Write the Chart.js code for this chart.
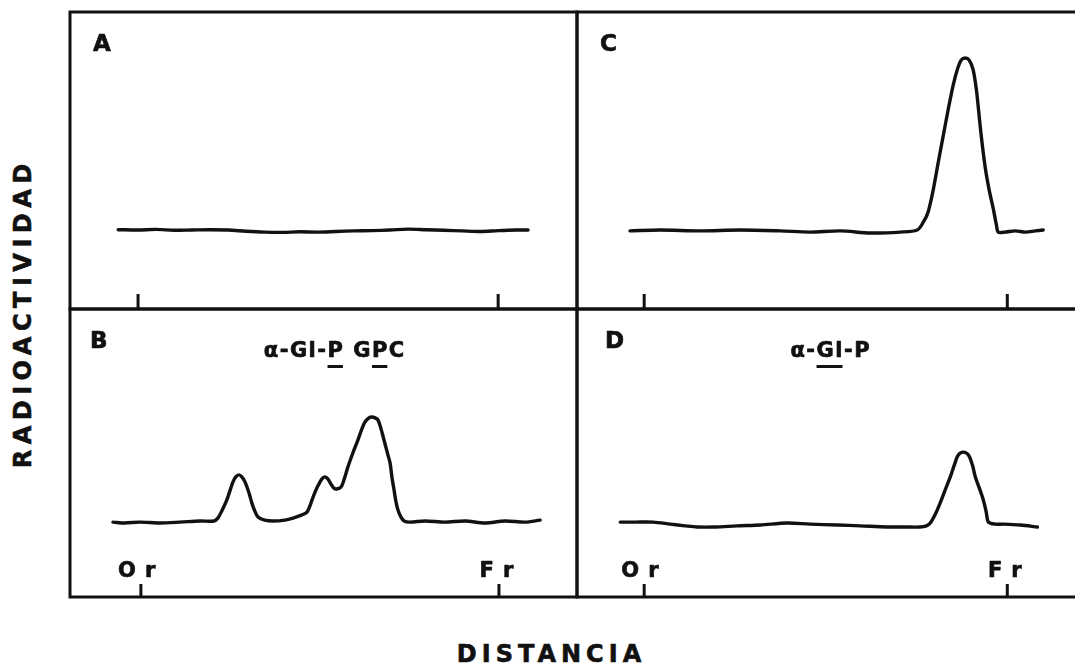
<!DOCTYPE html>
<html>
<head>
<meta charset="utf-8">
<title>Radioactividad vs distancia</title>
<script src="https://cdn.jsdelivr.net/npm/chart.js@4.4.1/dist/chart.umd.min.js"></script>
<style>
  html, body { margin: 0; padding: 0; background: #fff; }
  #fig { position: relative; width: 1075px; height: 663px; overflow: hidden; background: #fff;
         font-family: "DejaVu Sans", sans-serif; color: #111; }
  #fig canvas { position: absolute; }
  .axis-title { position: absolute; font-weight: bold; font-size: 24px; line-height: 24px;
                white-space: nowrap; -webkit-text-stroke: 0.6px #111; }
  #ylab { left: 23px; top: 316px; letter-spacing: 5.5px; padding-left: 5.5px;
          transform: translate(-50%, -50%) rotate(-90deg); }
  #xlab { left: 549px; top: 642px; letter-spacing: 5px; padding-left: 5px;
          transform: translateX(-50%); }
</style>
</head>
<body>
<div id="fig">
  <canvas id="cA"></canvas>
  <canvas id="cB"></canvas>
  <canvas id="cC"></canvas>
  <canvas id="cD"></canvas>
  <div class="axis-title" id="ylab">RADIOACTIVIDAD</div>
  <div class="axis-title" id="xlab">DISTANCIA</div>
</div>
<script>
// Distance along the strip: origin (Or) = 0, solvent front (Fr) = 10.
const markPositions = [0, 10];
const markLabels = ['Or', 'Fr'];

// Panel A: no activity, flat trace.
const distA = [-0.55, 0, 0.5, 1, 1.5, 2, 2.5, 3, 3.5, 4, 4.5, 5, 5.5, 6, 6.5, 7, 7.5, 8, 8.5, 9, 9.5, 10, 10.5, 10.83];
const actA  = [26.7, 26.6, 26.8, 26.5, 26.6, 26.7, 26.6, 26.2, 25.9, 25.8, 26.0, 25.9, 26.1, 26.3, 26.4, 26.6, 26.9, 26.7, 26.5, 26.3, 26.1, 26.4, 26.6, 26.6];

// Panel B: three peaks (α-Gl-P, shoulder, GPC).
const distB = [-0.78, -0.45, -0.03, 0.53, 1.09, 1.65, 2.04, 2.15, 2.26, 2.40, 2.57, 2.65, 2.74, 2.82, 2.91, 3.02, 3.10, 3.18, 3.27, 3.46,
               3.69, 4.02, 4.25, 4.50, 4.64, 4.72, 4.78, 4.89, 5.00, 5.08, 5.14, 5.22, 5.31, 5.39, 5.47, 5.59, 5.67, 5.78, 5.92, 6.06,
               6.17, 6.26, 6.37, 6.45, 6.54, 6.62, 6.70, 6.79, 6.90, 6.96, 7.01, 7.07, 7.12, 7.18, 7.26, 7.35, 7.51, 7.93, 8.49, 9.05,
               9.61, 10.17, 10.73, 11.15];
const actB  = [26.0, 25.7, 26.0, 25.7, 26.0, 26.4, 26.4, 27.4, 29.9, 33.7, 39.9, 41.7, 42.4, 41.7, 39.9, 36.1, 32.6, 29.9, 27.8, 26.7,
               26.4, 26.7, 27.4, 28.5, 29.5, 31.6, 33.7, 37.2, 39.9, 41.3, 41.7, 41.0, 39.2, 37.8, 37.5, 38.2, 40.6, 45.1, 50.0, 54.5,
               58.3, 60.8, 62.2, 62.5, 62.2, 61.5, 58.7, 54.5, 49.3, 46.5, 41.7, 37.2, 33.3, 30.2, 27.8, 26.4, 26.0, 26.4, 26.0, 26.4,
               25.7, 26.4, 26.0, 26.7];

// Panel C: single large peak near the front.
const distC = [-0.39, 0.44, 1.54, 2.64, 3.75, 4.57, 5.40, 6.23, 7.05, 7.52, 7.69, 7.82, 7.96, 8.10, 8.24, 8.37, 8.51, 8.62, 8.73, 8.84,
               8.95, 9.06, 9.15, 9.20, 9.28, 9.39, 9.50, 9.61, 9.70, 9.75, 9.94, 10.22, 10.50, 10.77, 10.99];
const actC  = [26.3, 26.6, 26.3, 26.6, 26.3, 25.9, 26.3, 25.6, 25.9, 26.6, 29.3, 32.7, 40.1, 49.5, 58.6, 67.0, 75.4, 80.5, 83.8, 84.5,
               83.8, 80.5, 73.7, 68.0, 58.6, 47.8, 40.1, 34.0, 28.3, 25.9, 25.9, 26.3, 25.9, 26.3, 26.6];

// Panel D: α-Gl-P peak.
const distD = [-0.66, -0.25, 0.25, 0.72, 1.13, 1.46, 1.96, 2.56, 3.20, 3.94, 4.57, 5.32, 5.95, 6.69, 7.19, 7.60, 7.77, 7.88, 8.02, 8.15,
               8.29, 8.43, 8.54, 8.65, 8.79, 8.93, 9.04, 9.12, 9.23, 9.34, 9.42, 9.48, 9.67, 9.89, 10.36, 10.83];
const actD  = [26.0, 26.0, 26.0, 25.3, 24.7, 24.3, 24.3, 24.7, 25.0, 25.7, 25.3, 25.0, 24.7, 24.3, 24.3, 24.3, 24.7, 25.7, 28.8, 32.6,
               37.2, 41.7, 45.8, 49.3, 50.3, 49.3, 45.8, 41.7, 37.8, 33.7, 29.5, 26.0, 25.3, 25.3, 25.0, 24.3];

// Panel captions; underline ranges are [start, end) character indices.
const panelLetters = ['A', 'B', 'C', 'D'];
const titleB = 'α-Gl-P GPC';
const underlineB = [[5, 6], [8, 9]];
const titleD = 'α-Gl-P';
const underlineD = [[2, 4]];

const INK = '#111';
const FONT = '"DejaVu Sans", sans-serif';
const PAD = 8;

// Heavy text: fill plus a thin outline.
function heavyText(ctx, s, x, y) {
  ctx.fillText(s, x, y);
  ctx.strokeText(s, x, y);
}

// Drawing of the frame, Or/Fr marks and captions of one panel.
const panelDecor = {
  id: 'panelDecor',
  afterDraw(chart, args, o) {
    const { ctx, chartArea: a } = chart;
    const xs = chart.scales.x;
    ctx.save();
    ctx.strokeStyle = INK;
    ctx.fillStyle = INK;
    ctx.lineWidth = 3;
    ctx.strokeRect(a.left, a.top, a.right - a.left, a.bottom - a.top);

    markPositions.forEach(m => {
      const px = xs.getPixelForValue(m);
      ctx.beginPath();
      ctx.moveTo(px, a.bottom);
      ctx.lineTo(px, a.bottom - o.markLen);
      ctx.stroke();
    });

    ctx.lineWidth = 0.7;
    ctx.lineJoin = 'round';
    ctx.textBaseline = 'alphabetic';

    if (o.markText) {
      ctx.font = 'bold 21px ' + FONT;
      markPositions.forEach((m, i) => {
        const px = xs.getPixelForValue(m);
        const lab = markLabels[i];
        ctx.textAlign = 'right';
        heavyText(ctx, lab[0], px - 5, a.bottom - 20);
        ctx.textAlign = 'left';
        heavyText(ctx, lab[1], px + 4, a.bottom - 20);
      });
    }

    ctx.font = 'bold 23px ' + FONT;
    ctx.textAlign = 'left';
    heavyText(ctx, o.letter, a.left + o.letterDx, a.top + 39);

    if (o.title) {
      ctx.font = 'bold 21px ' + FONT;
      const sp = 1.5;
      const chars = Array.from(o.title);
      const widths = chars.map(c => ctx.measureText(c).width);
      const total = widths.reduce((s, w) => s + w, 0) + sp * (chars.length - 1);
      const starts = [];
      let x = a.left + o.titleCx - total / 2;
      const base = a.top + 48;
      chars.forEach((c, i) => {
        starts.push(x);
        heavyText(ctx, c, x, base);
        x += widths[i] + sp;
      });
      (o.underline || []).forEach(([s, e]) => {
        const x0 = starts[s];
        const x1 = starts[e - 1] + widths[e - 1];
        ctx.fillRect(x0, base + 8, x1 - x0, 3);
      });
    }
    ctx.restore();
  }
};

const panels = [
  { id: 'cA', left: 70,  top: 12,  w: 507, h: 297, xMin: -1.89, xMax: 12.19, dist: distA, act: actA,
    letter: panelLetters[0], letterDx: 23, markLen: 15, markText: false },
  { id: 'cB', left: 70,  top: 309, w: 507, h: 288, xMin: -1.98, xMax: 12.18, dist: distB, act: actB,
    letter: panelLetters[1], letterDx: 20, markLen: 13, markText: true,
    title: titleB, underline: underlineB, titleCx: 264 },
  { id: 'cC', left: 577, top: 12,  w: 512, h: 297, xMin: -1.85, xMax: 12.25, dist: distC, act: actC,
    letter: panelLetters[2], letterDx: 23, markLen: 15, markText: false },
  { id: 'cD', left: 577, top: 309, w: 512, h: 288, xMin: -1.85, xMax: 12.25, dist: distD, act: actD,
    letter: panelLetters[3], letterDx: 28, markLen: 13, markText: true,
    title: titleD, underline: underlineD, titleCx: 253 }
];

panels.forEach(p => {
  const cv = document.getElementById(p.id);
  cv.width = p.w + 2 * PAD;
  cv.height = p.h + 2 * PAD;
  cv.style.left = (p.left - PAD) + 'px';
  cv.style.top = (p.top - PAD) + 'px';
  cv.style.width = cv.width + 'px';
  cv.style.height = cv.height + 'px';

  new Chart(cv, {
    type: 'line',
    data: {
      datasets: [{
        data: p.dist.map((d, i) => ({ x: d, y: p.act[i] })),
        borderColor: INK,
        borderWidth: 3.4,
        pointRadius: 0,
        fill: false,
        tension: 0.3,
        borderCapStyle: 'round',
        borderJoinStyle: 'round'
      }]
    },
    options: {
      responsive: false,
      animation: false,
      events: [],
      layout: { padding: PAD },
      scales: {
        x: { type: 'linear', min: p.xMin, max: p.xMax, display: false },
        y: { type: 'linear', min: 0, max: 100, display: false }
      },
      plugins: {
        legend: { display: false },
        tooltip: { enabled: false },
        panelDecor: {
          letter: p.letter, letterDx: p.letterDx, markLen: p.markLen, markText: p.markText,
          title: p.title, underline: p.underline, titleCx: p.titleCx
        }
      }
    },
    plugins: [panelDecor]
  });
});
</script>
</body>
</html>
